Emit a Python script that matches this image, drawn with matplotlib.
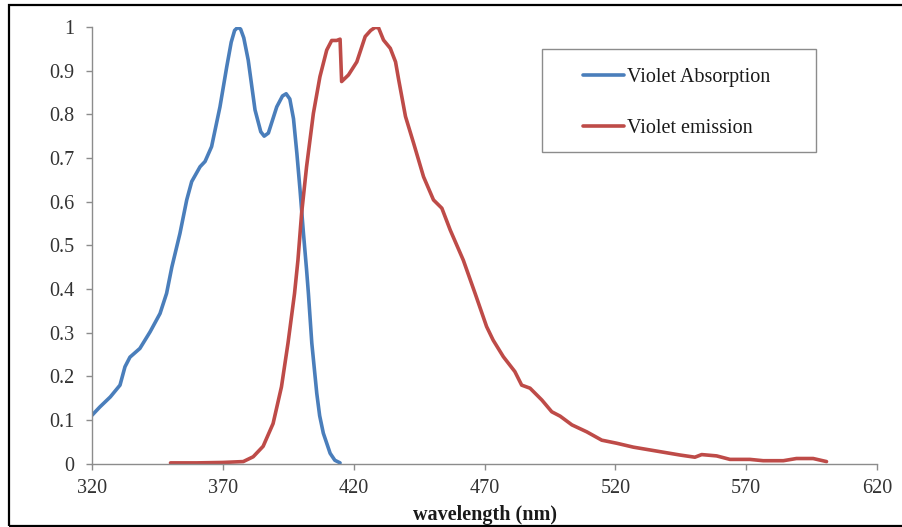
import matplotlib.pyplot as plt
from matplotlib.patches import Rectangle

# Absorption spectrum
abs_nm = [320, 323, 327, 330.7, 332.6, 334.5, 338.3, 342.2, 346, 348.5, 350.5,
          353.6, 356.2, 358.1, 361.3, 363.2, 365.7, 368.9, 371.5, 373.2, 374.5, 375.7,
          376.8, 378, 379.7, 382.3, 384.5, 385.8, 387.4, 390.6, 392.8, 394.2, 395.6,
          397, 398.3, 399.5, 400.8, 402, 402.7, 404, 405.9, 407, 408.4, 411, 412.8, 414.8]
abs_val = [0.111, 0.130, 0.153, 0.180, 0.222, 0.244, 0.264, 0.302, 0.344, 0.390, 0.450,
           0.527, 0.604, 0.646, 0.680, 0.692, 0.726, 0.817, 0.909, 0.965, 0.992, 0.999,
           0.995, 0.975, 0.924, 0.810, 0.760, 0.750, 0.757, 0.817, 0.842, 0.847, 0.835,
           0.790, 0.710, 0.627, 0.528, 0.444, 0.390, 0.276, 0.161, 0.110, 0.070, 0.024, 0.008, 0.002]

# Emission spectrum
em_nm = [350, 360, 370, 377.8, 381.6, 385.4, 389.2, 392.4, 394.9, 397.4, 398.7,
         400.1, 402, 404.6, 407.1, 409.7, 411.6, 413.5, 414.8, 415.4, 418, 421.2,
         424.4, 426.5, 428.2, 429.5, 431.4, 434, 436, 437.2, 439.8, 442.9, 446.7, 450.5, 453.7,
         456.9, 461.9, 466.4, 470.8, 473.3, 477.2, 481.6, 484.2, 487.4, 491.9,
         495.7, 498.9, 503.4, 509.1, 514.8, 520.5, 526.9, 535.8, 544.7, 550.4,
         553, 558.7, 563.8, 571.4, 576.5, 584.2, 589.2, 595.6, 600.7]
em_val = [0.002, 0.002, 0.003, 0.005, 0.016, 0.040, 0.092, 0.176, 0.276, 0.390, 0.466,
          0.573, 0.680, 0.802, 0.886, 0.947, 0.969, 0.969, 0.972, 0.875, 0.890, 0.920,
          0.978, 0.992, 0.999, 0.998, 0.970, 0.951, 0.920, 0.879, 0.795, 0.734, 0.657, 0.604, 0.585,
          0.535, 0.466, 0.390, 0.314, 0.283, 0.245, 0.211, 0.180, 0.173, 0.146,
          0.119, 0.109, 0.089, 0.073, 0.054, 0.047, 0.038, 0.029, 0.020, 0.015,
          0.021, 0.018, 0.010, 0.010, 0.007, 0.007, 0.012, 0.012, 0.005]

x_ticks = [320, 370, 420, 470, 520, 570, 620]
y_ticks = [0, 0.1, 0.2, 0.3, 0.4, 0.5, 0.6, 0.7, 0.8, 0.9, 1]
y_labels = ['0', '0.1', '0.2', '0.3', '0.4', '0.5', '0.6', '0.7', '0.8', '0.9', '1']

plt.rcParams['font.family'] = ['Liberation Serif', 'DejaVu Serif']
plt.rcParams['font.size'] = 14.5

def main():
    fig = plt.figure(figsize=(9.02, 5.27), dpi=100)
    ax = fig.add_axes([0.102, 0.120, 0.8703, 0.8289])

    ax.plot(abs_nm, abs_val, color='#4a7ebb', lw=2.6, label='Violet Absorption',
            solid_joinstyle='round', solid_capstyle='round')
    ax.plot(em_nm, em_val, color='#be4b48', lw=2.6, label='Violet emission',
            solid_joinstyle='round', solid_capstyle='round')

    ax.set_xlim(320, 620)
    ax.set_ylim(0, 1)
    ax.set_xticks(x_ticks)
    ax.set_yticks(y_ticks)
    ax.set_yticklabels(y_labels)

    for s in ['top', 'right']:
        ax.spines[s].set_visible(False)
    for s in ['left', 'bottom']:
        ax.spines[s].set_color('#8c8c8c')
        ax.spines[s].set_linewidth(1)
    ax.tick_params(axis='both', direction='out', length=4.3, width=1,
                   color='#8c8c8c', labelcolor='#333333')
    ax.tick_params(axis='y', pad=8.5)
    ax.tick_params(axis='x', pad=7)

    ax.set_xlabel('wavelength (nm)', fontweight='bold', color='#1a1a1a', labelpad=5)

    # legend box
    ax.add_patch(Rectangle((0.573, 0.7137), 0.349, 0.236, transform=ax.transAxes,
                           fill=False, edgecolor='#8c8c8c', lw=1, clip_on=False))
    ax.legend(loc='upper left', bbox_to_anchor=(0.6255, 0.906), frameon=False,
              borderpad=0, borderaxespad=0, handlelength=2.04, handletextpad=0.15,
              labelspacing=1.6, labelcolor='#1a1a1a')

    # outer frame of the picture (right side is cut off)
    fig.add_artist(Rectangle((8.5 / 902, 1.5 / 527), 1.1, 1 - 6 / 527,
                             transform=fig.transFigure, fill=False,
                             edgecolor='black', lw=1.6, clip_on=False))

    fig.savefig('out.png', dpi=100)

if __name__ == '__main__':
    main()
